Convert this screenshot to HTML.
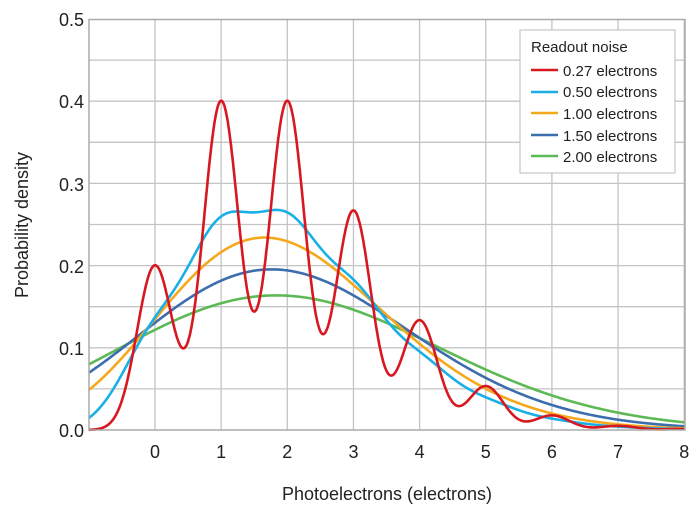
<!DOCTYPE html><html><head><style>body{margin:0;background:#fff}svg{font-family:"Liberation Sans",sans-serif}</style></head><body>
<svg id="s" width="700" height="512" xmlns="http://www.w3.org/2000/svg">
<g id="grid" stroke="#c4c4c4" stroke-width="1.3" fill="none"></g>
<g id="lines" fill="none" stroke-width="2.6"></g>
<rect x="89" y="19.5" width="596" height="410.5" fill="none" stroke="#aaa" stroke-width="1.5"/>
<g font-size="18" fill="#222" text-anchor="end">
<text x="84" y="26">0.5</text><text x="84" y="108">0.4</text><text x="84" y="191">0.3</text><text x="84" y="273">0.2</text><text x="84" y="355">0.1</text><text x="84" y="437">0.0</text>
</g>
<g id="xt" font-size="18" fill="#222" text-anchor="middle"></g>
<text x="387" y="500" font-size="18" fill="#222" text-anchor="middle">Photoelectrons (electrons)</text>
<text transform="translate(28,225) rotate(-90)" font-size="18" fill="#222" text-anchor="middle">Probability density</text>
<rect x="520" y="30" width="155" height="143" fill="#fff" stroke="#bbb" stroke-width="1"/>
<g font-size="15" fill="#222">
<text x="531" y="52">Readout noise</text>
<text x="563" y="76">0.27 electrons</text><text x="563" y="97">0.50 electrons</text><text x="563" y="119">1.00 electrons</text><text x="563" y="141">1.50 electrons</text><text x="563" y="162">2.00 electrons</text>
</g>
<g stroke-width="2.6">
<line x1="531" x2="558" y1="70" y2="70" stroke="#d81820"/>
<line x1="531" x2="558" y1="92" y2="92" stroke="#1ab0e6"/>
<line x1="531" x2="558" y1="113" y2="113" stroke="#f4a91d"/>
<line x1="531" x2="558" y1="135" y2="135" stroke="#3c6eae"/>
<line x1="531" x2="558" y1="156" y2="156" stroke="#5db956"/>
</g>
</svg>
<script>
var X=function(v){return 155+(v)*66.15},Y=function(p){return 430-p*822};
var g=document.getElementById('grid'),h='';
for(var i=1;i<10;i++){var y=430-i*41.1;h+='<line x1="89" x2="685" y1="'+y+'" y2="'+y+'"/>';}
for(var k=0;k<=8;k++){h+='<line x1="'+X(k)+'" x2="'+X(k)+'" y1="19.5" y2="430"/>';}
g.innerHTML=h;
var t='';for(k=0;k<=8;k++)t+='<text x="'+X(k)+'" y="458">'+k+'</text>';
document.getElementById('xt').innerHTML=t;
var pois=[];var f=1;for(k=0;k<30;k++){if(k>0)f*=k;pois.push(Math.exp(-2)*Math.pow(2,k)/f);}
var S=[[0.27,'#d81820'],[0.5,'#1ab0e6'],[1,'#f4a91d'],[1.5,'#3c6eae'],[2,'#5db956']];
var L='';S.slice().reverse().forEach(function(s){var sg=s[0],d='';
for(var x=-1;x<=8.0001;x+=0.01){var p=0;for(k=0;k<30;k++)p+=pois[k]*Math.exp(-(x-k)*(x-k)/(2*sg*sg))/(sg*2.5066);
d+=(d?'L':'M')+X(x).toFixed(1)+','+Y(p).toFixed(1);}
L+='<path d="'+d+'" stroke="'+s[1]+'"/>';});
document.getElementById('lines').innerHTML=L;
</script>
</body></html>
